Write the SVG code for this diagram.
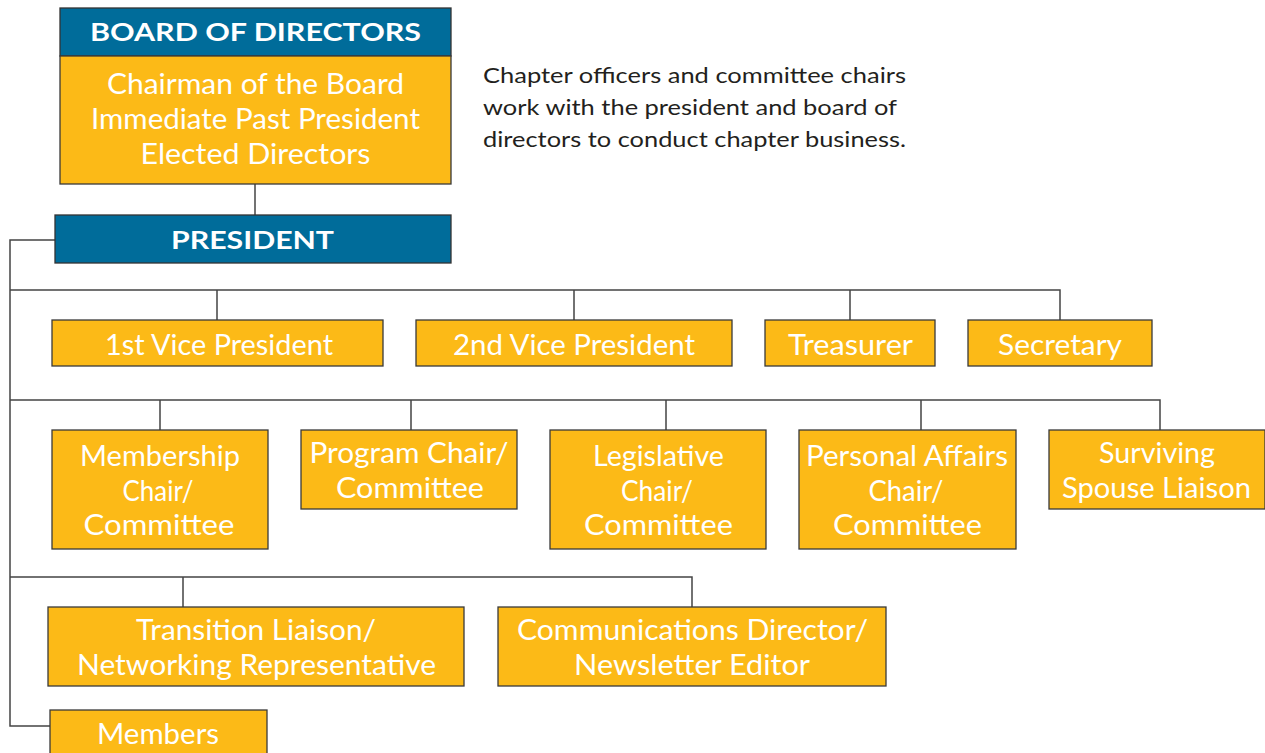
<svg xmlns="http://www.w3.org/2000/svg" width="1265" height="753" viewBox="0 0 1265 753">
<style>
.blue{fill:#006c9a;stroke:#333;stroke-width:1.3}
.yel{fill:#fcba17;stroke:#3a3a3a;stroke-width:1.3}
.t{font-family:Lato,"Open Sans","Liberation Sans",sans-serif;font-size:28px;fill:#fff;text-anchor:middle}
.h{font-family:Lato,"Open Sans","Liberation Sans",sans-serif;font-size:24px;font-weight:bold;fill:#fff;text-anchor:middle}
.p{font-family:Lato,"Open Sans","Liberation Sans",sans-serif;font-size:22px;fill:#231f20}
.c{fill:none;stroke:#444;stroke-width:1.5}
</style>
<rect width="1265" height="753" fill="#fff"/>
<g id="connectors">
<path class="c" d="M255,184V215"/>
<path class="c" d="M55,240H10V726H50"/>
<path class="c" d="M10,290H1060V320M217,290V320M574,290V320M850,290V320"/>
<path class="c" d="M10,400H1160V430M160,400V430M411,400V430M666,400V430M921,400V430"/>
<path class="c" d="M10,577H692V607M183,577V607"/>
</g>
<g id="board">
<rect class="blue" x="60" y="8" width="391" height="48"/>
<text class="h" x="255.5" y="41" textLength="331" lengthAdjust="spacingAndGlyphs">BOARD OF DIRECTORS</text>
<rect class="yel" x="60" y="56" width="391" height="128"/>
<text class="t" x="255.5" y="94" textLength="297" lengthAdjust="spacingAndGlyphs">Chairman of the Board</text>
<text class="t" x="255.5" y="129" textLength="329" lengthAdjust="spacingAndGlyphs">Immediate Past President</text>
<text class="t" x="255.5" y="164" textLength="230" lengthAdjust="spacingAndGlyphs">Elected Directors</text>
</g>
<g id="note">
<text class="p" x="483" y="83" textLength="423" lengthAdjust="spacingAndGlyphs">Chapter officers and committee chairs</text>
<text class="p" x="483" y="115" textLength="414" lengthAdjust="spacingAndGlyphs">work with the president and board of</text>
<text class="p" x="483" y="147" textLength="423" lengthAdjust="spacingAndGlyphs">directors to conduct chapter business.</text>
</g>
<g id="president">
<rect class="blue" x="55" y="215" width="396" height="48"/>
<text class="h" x="252.5" y="249" textLength="163" lengthAdjust="spacingAndGlyphs">PRESIDENT</text>
</g>
<g id="vp1">
<rect class="yel" x="52" y="320" width="331" height="46"/>
<text class="t" x="219" y="355" textLength="228" lengthAdjust="spacingAndGlyphs">1st Vice President</text>
</g>
<g id="vp2">
<rect class="yel" x="416" y="320" width="316" height="46"/>
<text class="t" x="574" y="355" textLength="242" lengthAdjust="spacingAndGlyphs">2nd Vice President</text>
</g>
<g id="treasurer">
<rect class="yel" x="765" y="320" width="170" height="46"/>
<text class="t" x="850.5" y="355" textLength="125" lengthAdjust="spacingAndGlyphs">Treasurer</text>
</g>
<g id="secretary">
<rect class="yel" x="968" y="320" width="184" height="46"/>
<text class="t" x="1060" y="355" textLength="124" lengthAdjust="spacingAndGlyphs">Secretary</text>
</g>
<g id="membership">
<rect class="yel" x="52" y="430" width="216" height="119"/>
<text class="t" x="160" y="466" textLength="160" lengthAdjust="spacingAndGlyphs">Membership</text>
<text class="t" x="158" y="501" textLength="71" lengthAdjust="spacingAndGlyphs">Chair/</text>
<text class="t" x="159" y="535" textLength="151" lengthAdjust="spacingAndGlyphs">Committee</text>
</g>
<g id="program">
<rect class="yel" x="301" y="430" width="216" height="79"/>
<text class="t" x="409" y="463" textLength="199" lengthAdjust="spacingAndGlyphs">Program Chair/</text>
<text class="t" x="410" y="498" textLength="148" lengthAdjust="spacingAndGlyphs">Committee</text>
</g>
<g id="legislative">
<rect class="yel" x="550" y="430" width="216" height="119"/>
<text class="t" x="658.5" y="466" textLength="131" lengthAdjust="spacingAndGlyphs">Legislative</text>
<text class="t" x="657" y="501" textLength="72" lengthAdjust="spacingAndGlyphs">Chair/</text>
<text class="t" x="658.5" y="535" textLength="149" lengthAdjust="spacingAndGlyphs">Committee</text>
</g>
<g id="personal">
<rect class="yel" x="799" y="430" width="217" height="119"/>
<text class="t" x="907" y="466" textLength="202" lengthAdjust="spacingAndGlyphs">Personal Affairs</text>
<text class="t" x="906" y="501" textLength="75" lengthAdjust="spacingAndGlyphs">Chair/</text>
<text class="t" x="907.5" y="535" textLength="149" lengthAdjust="spacingAndGlyphs">Committee</text>
</g>
<g id="surviving">
<rect class="yel" x="1049" y="430" width="216" height="79"/>
<text class="t" x="1157" y="463" textLength="116" lengthAdjust="spacingAndGlyphs">Surviving</text>
<text class="t" x="1156.5" y="498" textLength="189" lengthAdjust="spacingAndGlyphs">Spouse Liaison</text>
</g>
<g id="transition">
<rect class="yel" x="48" y="607" width="416" height="79"/>
<text class="t" x="256" y="640" textLength="240" lengthAdjust="spacingAndGlyphs">Transition Liaison/</text>
<text class="t" x="256.5" y="675" textLength="359" lengthAdjust="spacingAndGlyphs">Networking Representative</text>
</g>
<g id="communications">
<rect class="yel" x="498" y="607" width="388" height="79"/>
<text class="t" x="692.5" y="640" textLength="351" lengthAdjust="spacingAndGlyphs">Communications Director/</text>
<text class="t" x="692" y="675" textLength="236" lengthAdjust="spacingAndGlyphs">Newsletter Editor</text>
</g>
<g id="members">
<rect class="yel" x="50" y="710" width="217" height="50"/>
<text class="t" x="158" y="744" textLength="122" lengthAdjust="spacingAndGlyphs">Members</text>
</g>
</svg>
